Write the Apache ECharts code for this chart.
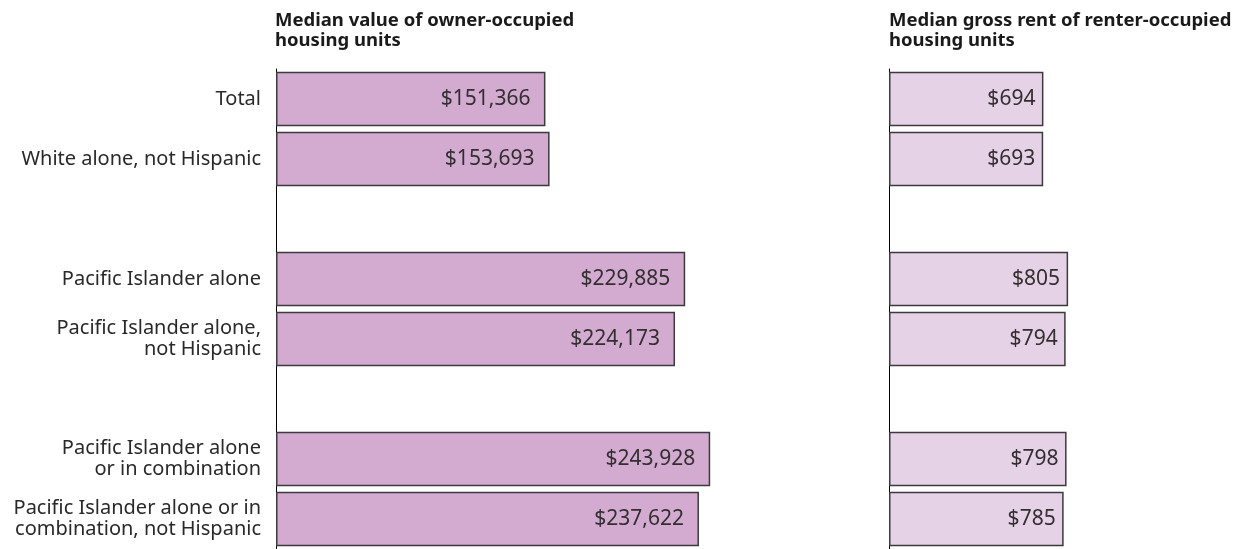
<!DOCTYPE html>
<html>
<head>
<meta charset="utf-8">
<script src="https://cdn.jsdelivr.net/npm/echarts@6/dist/echarts.min.js"></script>
<style>
  html, body { margin: 0; padding: 0; background: #fff; }
  #main { width: 1257px; height: 549px; }
</style>
</head>
<body>
<div id="main"></div>
<script>
// categories (blank rows are the gaps between groups)
var categories = [
  'Total',
  'White alone, not Hispanic',
  ' ',
  'Pacific Islander alone',
  'Pacific Islander alone,\nnot Hispanic',
  '  ',
  'Pacific Islander alone\nor in combination',
  'Pacific Islander alone or in\ncombination, not Hispanic'
];
var ownerValue = [151366, 153693, null, 229885, 224173, null, 243928, 237622];
var renterRent = [694, 693, null, 805, 794, null, 798, 785];

var titleOwner = 'Median value of owner-occupied\nhousing units';
var titleRenter = 'Median gross rent of renter-occupied\nhousing units';

var myChart = echarts.init(document.getElementById('main'));

function money(p) {
  return '$' + p.value.toLocaleString('en-US');
}

var font = '"Noto Sans", sans-serif';

var option = {
  animation: false,
  textStyle: { fontFamily: font },
  title: [
    {
      text: titleOwner, left: 275, top: 10, padding: 0,
      textStyle: { fontFamily: font, fontSize: 18.5, fontWeight: 'bold', color: '#1a1a1a', lineHeight: 20.5 }
    },
    {
      text: titleRenter, left: 889, top: 10, padding: 0,
      textStyle: { fontFamily: font, fontSize: 18.5, fontWeight: 'bold', color: '#1a1a1a', lineHeight: 20.5 }
    }
  ],
  grid: [
    { left: 276, top: 69, width: 534, height: 482 },
    { left: 889, top: 69, width: 222.5, height: 482 }
  ],
  xAxis: [
    { gridIndex: 0, type: 'value', min: 0, max: 300000, show: false },
    { gridIndex: 1, type: 'value', min: 0, max: 1000, show: false }
  ],
  yAxis: [
    {
      gridIndex: 0, type: 'category', inverse: true, data: categories,
      axisLine: { show: true, lineStyle: { color: '#000', width: 1 } },
      axisTick: { show: false },
      axisLabel: { margin: 15, fontSize: 20, lineHeight: 20.5, color: '#2b2829', fontFamily: font }
    },
    {
      gridIndex: 1, type: 'category', inverse: true, data: categories,
      axisLine: { show: true, lineStyle: { color: '#000', width: 1 } },
      axisTick: { show: false },
      axisLabel: { show: false }
    }
  ],
  series: [
    {
      type: 'bar', xAxisIndex: 0, yAxisIndex: 0,
      data: ownerValue,
      barWidth: '91%',
      itemStyle: { color: '#d3aad0', borderColor: '#3d3a3d', borderWidth: 1.5 },
      label: {
        show: true, position: 'insideRight', distance: 15,
        formatter: money, fontSize: 21, color: '#332f31', fontFamily: font
      }
    },
    {
      type: 'bar', xAxisIndex: 1, yAxisIndex: 1,
      data: renterRent,
      barWidth: '91%',
      itemStyle: { color: '#e6d2e6', borderColor: '#3d3a3d', borderWidth: 1.5 },
      label: {
        show: true, position: 'insideRight', distance: 8,
        formatter: money, fontSize: 21, color: '#332f31', fontFamily: font
      }
    }
  ]
};

myChart.setOption(option);
window.onresize = myChart.resize;
</script>
</body>
</html>
